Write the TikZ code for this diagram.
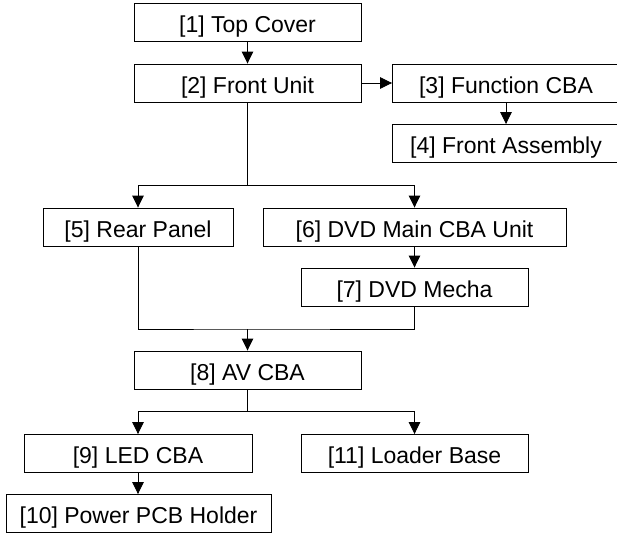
\documentclass[tikz,border=0pt]{standalone}
\usepackage{fontspec}
\setmainfont{Liberation Sans}
\usetikzlibrary{arrows.meta}
\begin{document}
\begin{tikzpicture}[x=1pt, y=-1pt, line width=0.9pt, line join=miter, >={Triangle[width=11.5pt,length=12pt]},
	box/.style={draw, fill=white, inner sep=0pt, minimum height=38pt, text height=20.6pt, text depth=0pt,
		font=\fontsize{23}{27}\selectfont}]
	\useasboundingbox (0,0) rectangle (617,533);
	% boxes: name/x/y/width/text
	\foreach \n/\x/\y/\w/\t in {b1/247.5/22/227/{[1] Top Cover}, b2/247.5/83/227/{[2] Front Unit},
		b3/506/83/227/{[3] Function CBA}, b4/506/143.5/227/{[4] Front Assembly},
		b5/138/227/190/{[5] Rear Panel}, b6/414.5/227/303/{[6] DVD Main CBA Unit},
		b7/414.5/287/227/{[7] DVD Mecha}, b8/247.5/370/227/{[8] AV CBA},
		b9/138/453.5/228/{[9] LED CBA}, b10/138.5/513.5/265/{[10] Power PCB Holder},
		b11/414.5/453.5/227/{[11] Loader Base}}
		\node[box, minimum width=\w pt] (\n) at (\x,\y) {\t};
	\path (247.5,185) coordinate (j1)
		(247.5,329) coordinate (j2)
		(247.5,411) coordinate (j3);
	\draw[->] (b1) -- (b2);
	\draw[->] (b2) -- (b3);
	\draw[->] (b3) -- (b4);
	\draw (b2.south) -- (j1);
	\draw[->] (j1) -| (b5.north);
	\draw[->] (j1) -| (b6.north);
	\draw[->] (b6) -- (b7);
	\draw (b5.south) |- (j2) -| (b7.south);
	\draw[->] (j2) -- (b8.north);
	\draw (b8.south) -- (j3);
	\draw[->] (j3) -| (b9.north);
	\draw[->] (j3) -| (b11.north);
	\draw[->] (b9.south) -- (b9.south |- b10.north);
\end{tikzpicture}
\end{document}
